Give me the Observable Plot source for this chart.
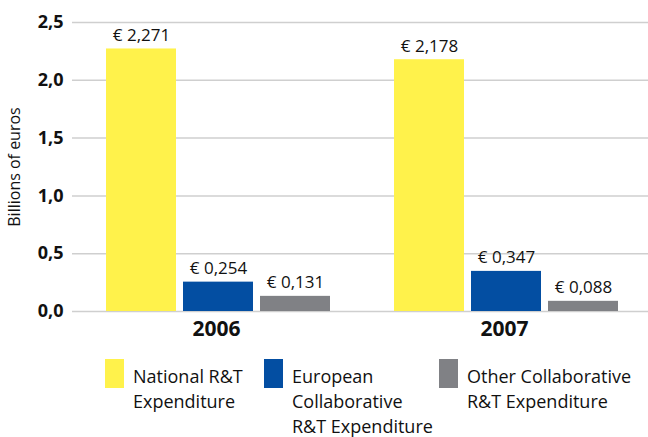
<!DOCTYPE html>
<html>
<head>
<meta charset="utf-8">
<script src="https://cdn.jsdelivr.net/npm/d3@7"></script>
<script src="https://cdn.jsdelivr.net/npm/@observablehq/plot@0.6"></script>
<style>
  html, body { margin: 0; padding: 0; background: #fff; }
  body { width: 648px; font-family: "Open Sans", sans-serif; }
  #legend { position: relative; height: 87px; display: flex; padding-left: 105px; box-sizing: border-box; color: #111; }
  .item { display: flex; align-items: flex-start; }
  .sw { width: 19px; height: 29px; margin-top: 9px; margin-right: 9px; flex: none; }
  .lab { margin-top: 13.5px; font-size: 18px; line-height: 25px; white-space: nowrap; }
</style>
</head>
<body>
<div id="chart"></div>
<div id="legend"></div>
<script>
const years = ["2006", "2007"];
const series = ["National R&T Expenditure", "European Collaborative R&T Expenditure", "Other Collaborative R&T Expenditure"];
const values2006 = [2.271, 0.254, 0.131];
const values2007 = [2.178, 0.347, 0.088];
const colors = ["#FFF24B", "#034EA2", "#808185"];
const legendLines = [["National R&T", "Expenditure"], ["European", "Collaborative", "R&T Expenditure"], ["Other Collaborative", "R&T Expenditure"]];
const yTicks = [0, 0.5, 1.0, 1.5, 2.0, 2.5];
const yLabel = "Billions of euros";

const data = [];
[values2006, values2007].forEach((vals, i) => vals.forEach((v, j) => data.push({year: years[i], series: series[j], value: v})));

const comma = (v, n) => v.toFixed(n).replace(".", ",");

const chart = Plot.plot({
  width: 648,
  height: 350,
  marginTop: 22,
  marginBottom: 39,
  marginLeft: 71,
  marginRight: 0,
  style: {fontFamily: "Open Sans, sans-serif", background: "#fff"},
  fx: {domain: years, padding: 0, label: null},
  x: {domain: series, paddingInner: 0.097, paddingOuter: 0.41, align: 0.53, axis: null},
  y: {domain: [0, 2.5], label: null},
  color: {domain: series, range: colors},
  marks: [
    Plot.gridY(yTicks, {stroke: "#cfcfcf", strokeOpacity: 1, strokeWidth: 1.5}),
    Plot.barY(data, {fx: "year", x: "series", y: "value", fill: "series"}),
    Plot.text(data, {fx: "year", x: "series", y: "value", text: d => "€ " + comma(d.value, 3), lineAnchor: "bottom", dy: -8, fontSize: 17, fill: "#111"}),
    Plot.axisY(yTicks, {tickSize: 0, tickPadding: 9, tickFormat: d => comma(d, 1), fontSize: 18, fontWeight: "bold", fill: "#111", label: yLabel, labelAnchor: "center", labelOffset: 64, labelArrow: "none"}),
    Plot.axisFx({anchor: "bottom", tickSize: 0, tickPadding: 10, fontSize: 21, fontWeight: "bold", fill: "#111", label: null})
  ]
});
document.getElementById("chart").appendChild(chart);
chart.querySelectorAll("g[aria-label='y-axis label'] text").forEach(t => { t.setAttribute("font-size", 16); t.setAttribute("font-weight", "normal"); });

const legend = document.getElementById("legend");
const widths = [159, 175, 200];
series.forEach((s, i) => {
  const item = document.createElement("div");
  item.className = "item";
  item.style.width = widths[i] + "px";
  const sw = document.createElement("div");
  sw.className = "sw";
  sw.style.background = colors[i];
  const lab = document.createElement("div");
  lab.className = "lab";
  lab.innerHTML = legendLines[i].join("<br>");
  item.appendChild(sw);
  item.appendChild(lab);
  legend.appendChild(item);
});
</script>
</body>
</html>
